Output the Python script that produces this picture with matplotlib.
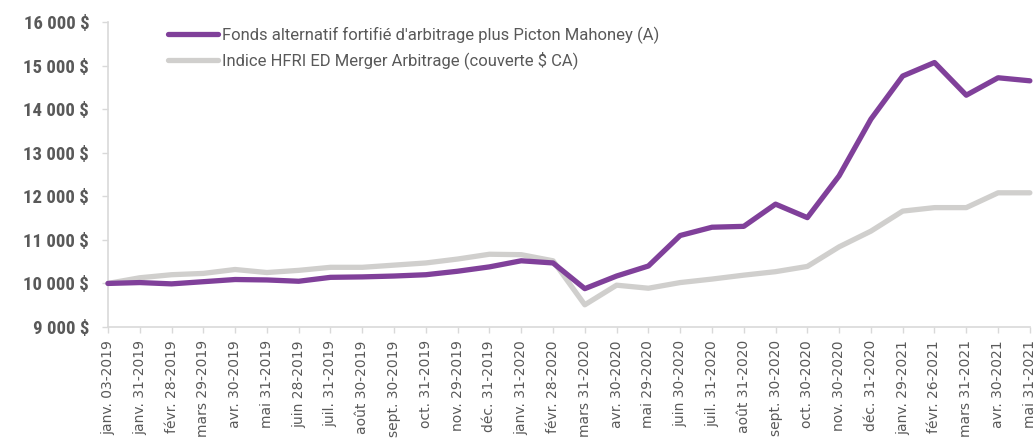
import matplotlib
matplotlib.use("Agg")
import matplotlib.pyplot as plt
from matplotlib.ticker import FuncFormatter

dates = ["janv. 03-2019", "janv. 31-2019", "févr. 28-2019", "mars 29-2019", "avr. 30-2019",
         "mai 31-2019", "juin 28-2019", "juil. 31-2019", "août 30-2019", "sept. 30-2019",
         "oct. 31-2019", "nov. 29-2019", "déc. 31-2019", "janv. 31-2020", "févr. 28-2020",
         "mars 31-2020", "avr. 30-2020", "mai 29-2020", "juin 30-2020", "juil. 31-2020",
         "août 31-2020", "sept. 30-2020", "oct. 30-2020", "nov. 30-2020", "déc. 31-2020",
         "janv. 29-2021", "févr. 26-2021", "mars 31-2021", "avr. 30-2021", "mai 31-2021"]

fund = [10000, 10020, 9990, 10040, 10090, 10080, 10050, 10140, 10150, 10170,
        10200, 10280, 10380, 10520, 10470, 9880, 10170, 10400, 11100, 11290,
        11310, 11820, 11510, 12470, 13770, 14760, 15070, 14320, 14720, 14650]

index = [10000, 10130, 10200, 10230, 10320, 10250, 10300, 10370, 10370, 10420,
         10470, 10560, 10670, 10660, 10520, 9510, 9960, 9890, 10020, 10100,
         10190, 10270, 10390, 10840, 11200, 11660, 11740, 11740, 12080, 12080]

fund_label = "Fonds alternatif fortifié d'arbitrage plus Picton Mahoney (A)"
index_label = "Indice HFRI ED Merger Arbitrage (couverte $ CA)"

yticks = [9000, 10000, 11000, 12000, 13000, 14000, 15000, 16000]

plt.rcParams['font.family'] = ['Roboto', 'DejaVu Sans']

purple = "#80409A"
grey_line = "#D0CFCD"
text_col = "#595959"
axis_col = "#D9D9D9"

fig = plt.figure(figsize=(10.34, 4.38), dpi=100)
ax = fig.add_axes([0.1044, 0.2534, 0.8916, 0.6964])

x = list(range(len(dates)))
ax.plot(x, index, color=grey_line, lw=3.8, solid_capstyle='round', solid_joinstyle='round', label=index_label, zorder=2)
ax.plot(x, fund, color=purple, lw=3.8, solid_capstyle='round', solid_joinstyle='round', label=fund_label, zorder=3)

ax.set_xlim(0, len(dates) - 1)
ax.set_ylim(9000, 16000)
ax.set_yticks(yticks)
ax.yaxis.set_major_formatter(FuncFormatter(lambda v, p: f"{int(v):,}".replace(",", " ") + " $"))
ax.set_xticks(x)
ax.set_xticklabels(dates, rotation=90, fontsize=10, color=text_col, family=['DejaVu Sans'])
for lab in ax.get_yticklabels():
    lab.set_family(['Roboto Condensed', 'Liberation Sans Narrow', 'DejaVu Sans'])
    lab.set_fontweight('bold')
    lab.set_fontsize(13.5)
    lab.set_color(text_col)

for s in ["top", "right"]:
    ax.spines[s].set_visible(False)
for s in ["left", "bottom"]:
    ax.spines[s].set_color(axis_col)
    ax.spines[s].set_linewidth(1.2)
ax.tick_params(axis='both', color=axis_col, length=4.5, width=1)
ax.tick_params(axis='y', pad=9)
ax.tick_params(axis='x', pad=5)
for line in ax.get_lines():
    line.set_clip_on(False)

handles, labels = ax.get_legend_handles_labels()
leg = ax.legend(handles[::-1], labels[::-1], loc='upper left',
                bbox_to_anchor=(0.1625, 0.939), bbox_transform=fig.transFigure,
                frameon=False, fontsize=12, labelcolor=text_col, handlelength=3.0,
                handletextpad=0.25, labelspacing=0.45, borderaxespad=0.0, borderpad=0.0)

fig.savefig("out.png", dpi=100)
